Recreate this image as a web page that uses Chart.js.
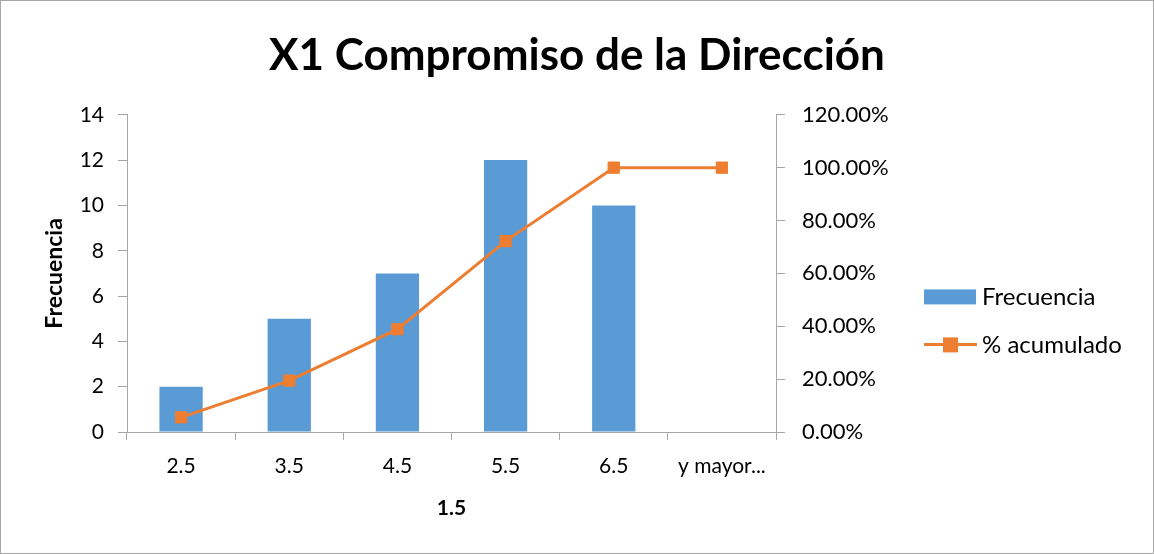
<!DOCTYPE html>
<html>
<head>
<meta charset="utf-8">
<script src="https://cdn.jsdelivr.net/npm/chart.js@4/dist/chart.umd.min.js"></script>
<style>
	body { margin: 0; background: #fff; }
	#wrap { position: relative; width: 1152px; height: 552px; border: 1px solid #a6a6a6; }
</style>
</head>
<body>
<div id="wrap"><canvas id="paretoChart"></canvas></div>
<script>
// categories (class marks)
const categories = ["2.5", "3.5", "4.5", "5.5", "6.5", "y mayor..."];
// bars: frequency per class
const frecuencia = [2, 5, 7, 12, 10, 0];
// line: cumulative share (0..1)
const acumulado = [0.0556, 0.1944, 0.3889, 0.7222, 1.0, 1.0];
const leftTicks = [0, 2, 4, 6, 8, 10, 12, 14];
const rightTicks = [0, 0.2, 0.4, 0.6, 0.8, 1.0, 1.2];

const fontFam = "Lato, 'Open Sans', sans-serif";
const axisGray = "#a6a6a6";
const blue = "#5B9BD5";
const orange = "#ED7D31";

Chart.defaults.font.family = fontFam;
Chart.defaults.color = "#000";

//legend drawn beside the right axis, like the spreadsheet one
const sideLegend = {
	id: "sideLegend",
	afterDraw(chart) {
		let c = chart.ctx;
		let area = chart.chartArea;
		let x0 = area.right + 148;
		let midY = (area.top + area.bottom) / 2;
		let rows = [midY + 23, midY + 71];
		let sets = [chart.data.datasets[1], chart.data.datasets[0]];
		c.save();
		c.font = "24px " + fontFam;
		c.textBaseline = "middle";
		c.fillStyle = "#000";
		sets.forEach(function(ds, i) {
			let y = rows[i];
			if (ds.type === "bar") {
				c.fillStyle = ds.backgroundColor;
				c.fillRect(x0, y - 7, 52, 15);
			} else {
				c.strokeStyle = ds.borderColor;
				c.lineWidth = 3;
				c.beginPath();
				c.moveTo(x0, y);
				c.lineTo(x0 + 53, y);
				c.stroke();
				c.fillStyle = ds.backgroundColor;
				c.fillRect(x0 + 19, y - 7, 15, 15);
			}
			c.fillStyle = "#000";
			c.fillText(ds.label, x0 + 58, y + 1);
		});
		c.restore();
	}
};

let ctx = document.getElementById("paretoChart").getContext("2d");
let paretoChart = new Chart(ctx, {
	type: "bar",
	data: {
		labels: categories,
		datasets: [
			{
				type: "line",
				label: "% acumulado",
				data: acumulado,
				yAxisID: "y1",
				borderColor: orange,
				backgroundColor: orange,
				borderWidth: 3,
				pointStyle: "rect",
				pointRadius: 8,
				pointHoverRadius: 8,
				pointBorderWidth: 1,
				tension: 0,
				order: 0
			},
			{
				type: "bar",
				label: "Frecuencia",
				data: frecuencia,
				yAxisID: "y",
				backgroundColor: blue,
				borderWidth: 0,
				barPercentage: 0.4,
				categoryPercentage: 1.0,
				order: 1
			}
		]
	},
	options: {
		responsive: true,
		maintainAspectRatio: false,
		animation: false,
		layout: { padding: 0 },
		plugins: {
			title: {
				display: true,
				text: "X1 Compromiso de la Dirección",
				font: { size: 44, weight: "bold" },
				padding: { top: 28, bottom: 33 }
			},
			legend: { display: false },
			tooltip: { enabled: false }
		},
		scales: {
			x: {
				offset: true,
				afterFit: function(axis) { axis.height = 121; },
				grid: {
					offset: true,
					drawOnChartArea: false,
					drawTicks: true,
					tickLength: 8,
					color: axisGray
				},
				border: { color: axisGray },
				ticks: { font: { size: 21 }, padding: 14, maxRotation: 0 },
				title: { display: true, text: "1.5", font: { size: 21, weight: "bold" }, padding: { top: 0, bottom: 32 } }
			},
			y: {
				position: "left",
				min: 0,
				max: 14,
				afterFit: function(axis) { axis.width = 126; },
				afterBuildTicks: function(axis) { axis.ticks = leftTicks.map(v => ({ value: v })); },
				grid: { drawOnChartArea: false, drawTicks: true, tickLength: 9, color: axisGray },
				border: { color: axisGray },
				ticks: { font: { size: 21 }, padding: 14 },
				title: { display: true, text: "Frecuencia", font: { size: 23, weight: "bold" }, padding: { top: 40, bottom: 0 } }
			},
			y1: {
				position: "right",
				min: 0,
				max: 1.2,
				afterFit: function(axis) { axis.width = 377; },
				afterBuildTicks: function(axis) { axis.ticks = rightTicks.map(v => ({ value: v })); },
				grid: { drawOnChartArea: false, drawTicks: true, tickLength: 9, color: axisGray },
				border: { color: axisGray },
				ticks: {
					font: { size: 22 },
					padding: 17,
					callback: function(v) { return (v * 100).toFixed(2) + "%"; }
				}
			}
		}
	},
	plugins: [sideLegend]
});
</script>
</body>
</html>
